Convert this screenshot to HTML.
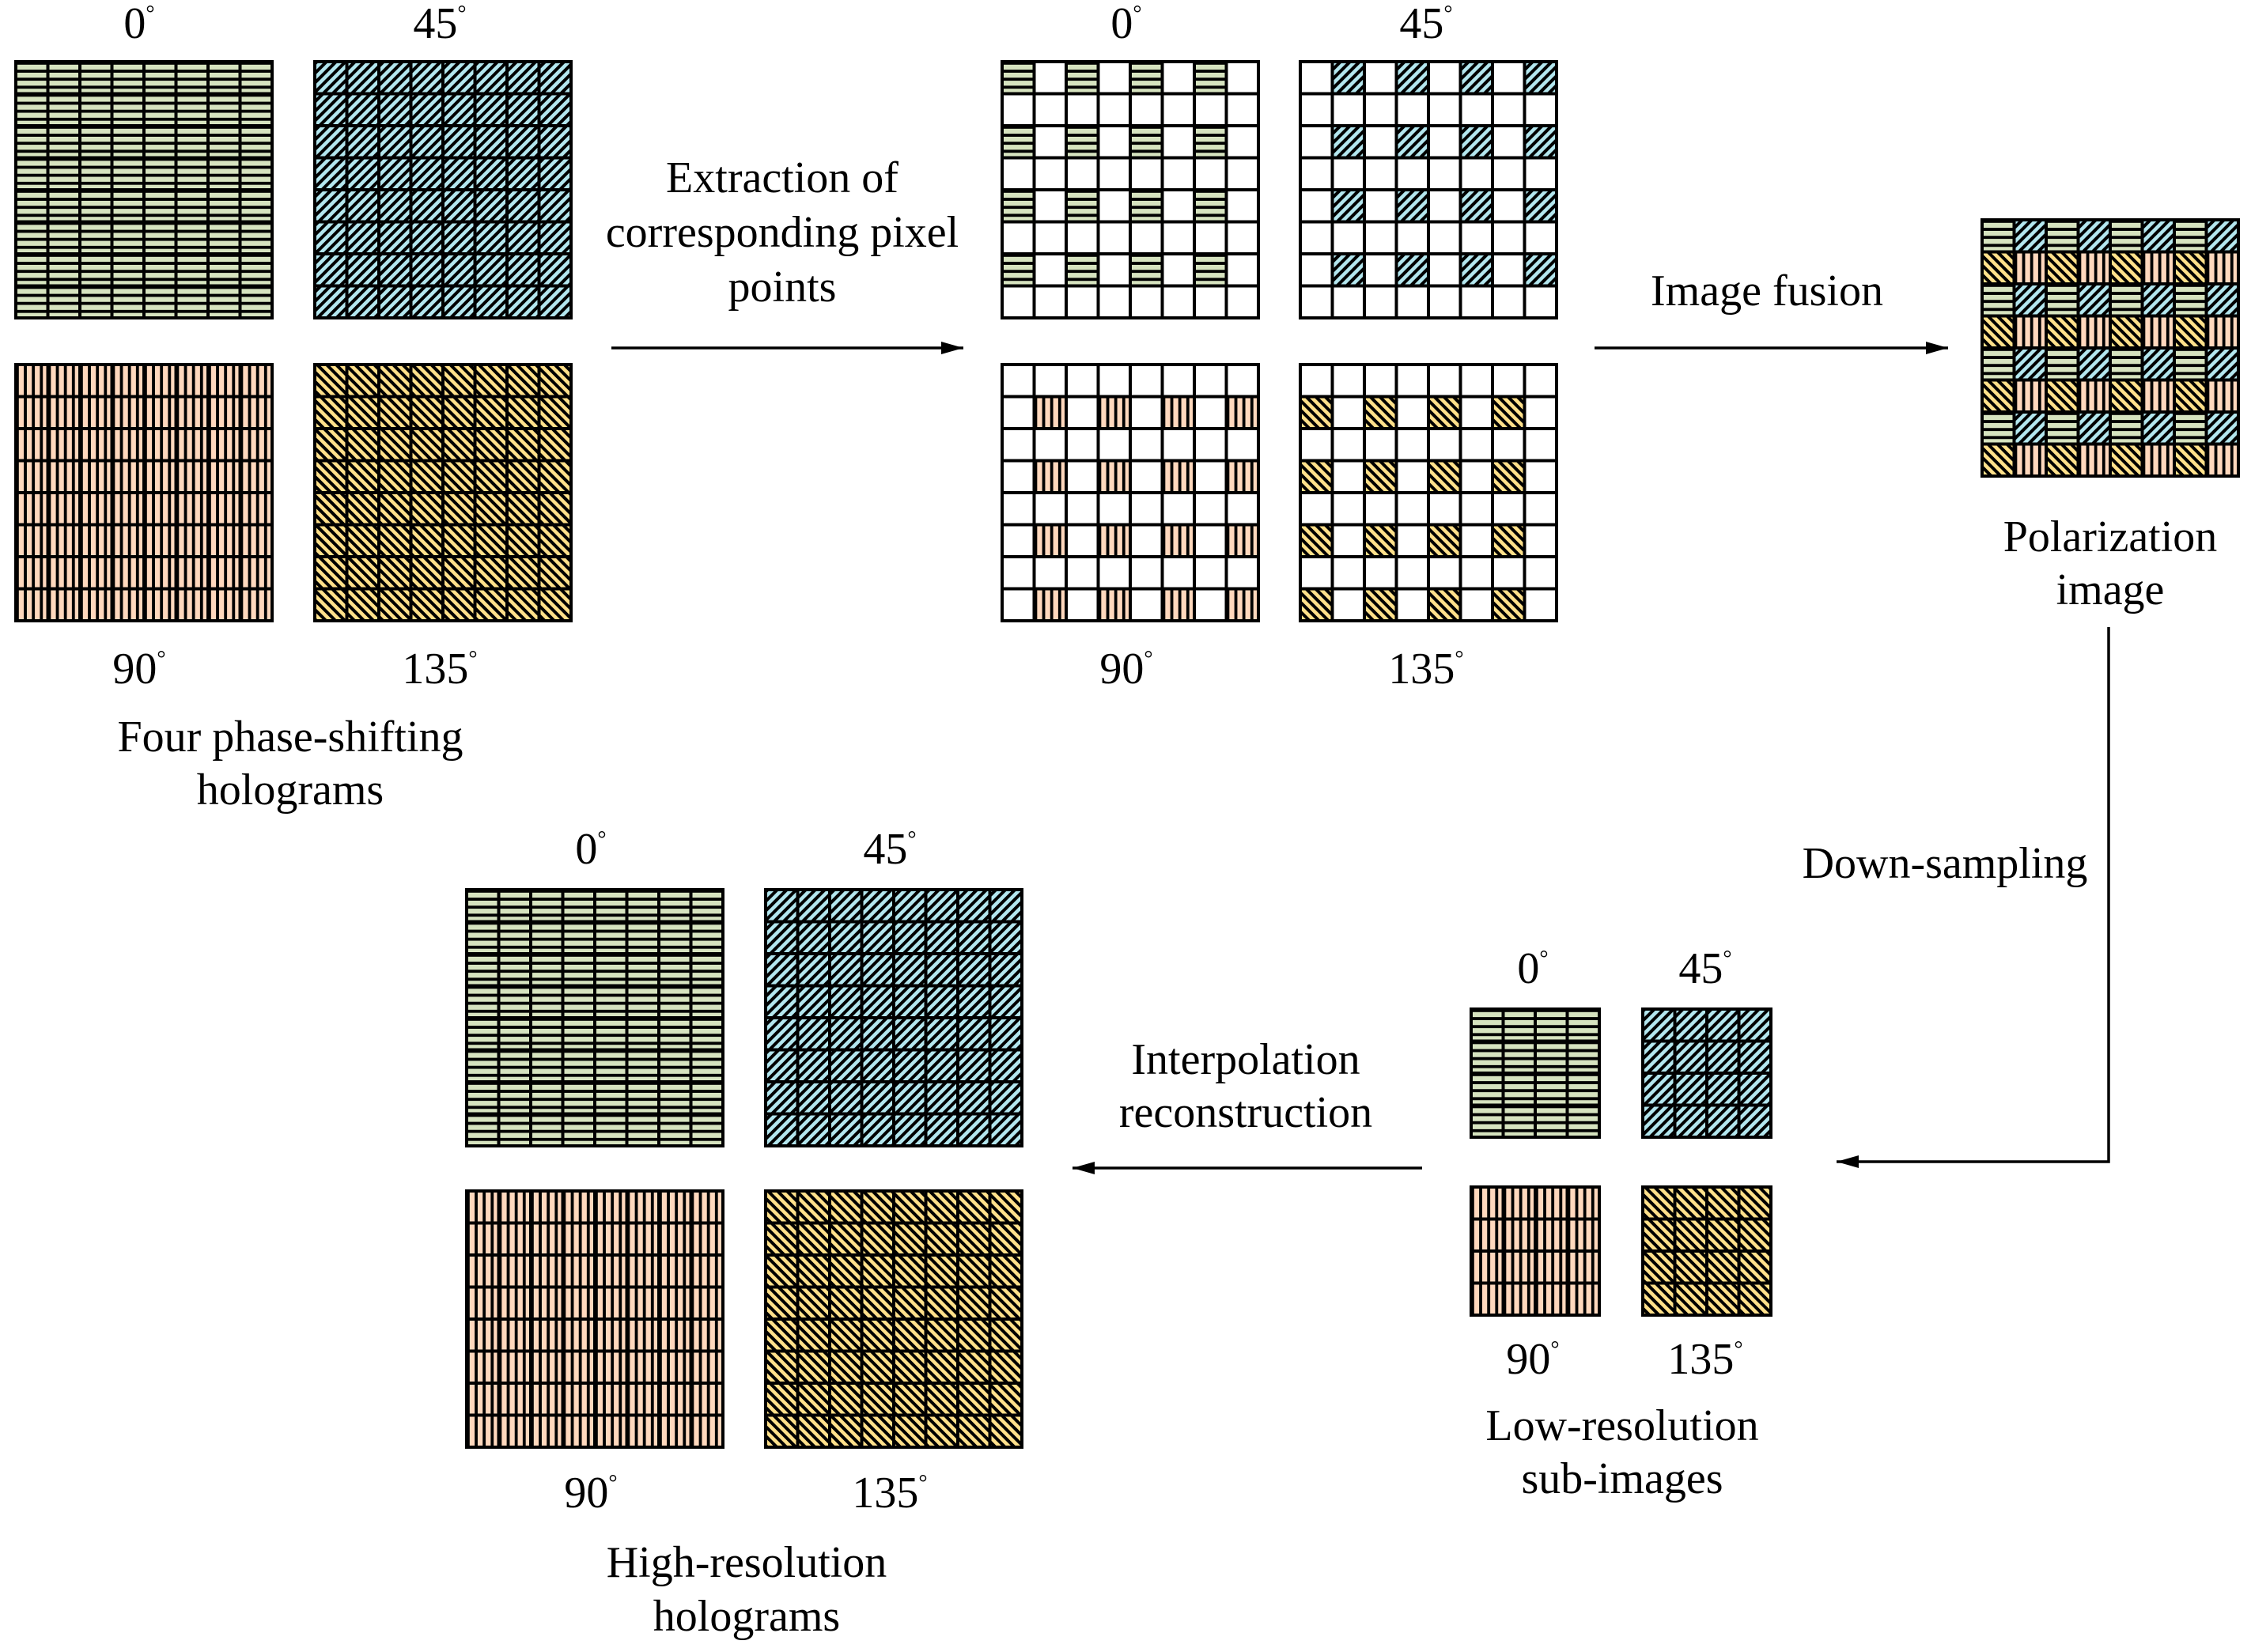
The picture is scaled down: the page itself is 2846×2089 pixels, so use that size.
<!DOCTYPE html>
<html><head><meta charset="utf-8"><style>
html,body{margin:0;padding:0;background:#fff;}
svg{display:block;}
text{font-family:"Liberation Serif",serif;font-size:56px;fill:#000;text-anchor:middle;}
</style></head><body>
<svg width="2846" height="2089" viewBox="0 0 2846 2089" xmlns="http://www.w3.org/2000/svg">
<defs>
<pattern id="pH" patternUnits="userSpaceOnUse" width="10" height="10.125"><rect width="10" height="10.125" fill="#d6e3bf"/><rect y="0" width="10" height="3.8" fill="#000"/></pattern>
<pattern id="pV" patternUnits="userSpaceOnUse" width="10.125" height="10"><rect width="10.125" height="10" fill="#ffd8bd"/><rect x="0" width="3.8" height="10" fill="#000"/></pattern>
<pattern id="pB" patternUnits="userSpaceOnUse" width="8.5" height="8.5" patternTransform="rotate(45)"><rect width="8.5" height="8.5" fill="#b3e6ee"/><rect width="4" height="8.5" fill="#000"/></pattern>
<pattern id="pY" patternUnits="userSpaceOnUse" width="8.5" height="8.5" patternTransform="rotate(-45)"><rect width="8.5" height="8.5" fill="#ffe08a"/><rect width="4" height="8.5" fill="#000"/></pattern>
<pattern id="grid" patternUnits="userSpaceOnUse" width="40.5" height="40.5"><rect x="-2" width="4" height="40.5" fill="#000"/><rect x="38.5" width="4" height="40.5" fill="#000"/><rect y="-2" width="40.5" height="4" fill="#000"/><rect y="38.5" width="40.5" height="4" fill="#000"/></pattern>
<pattern id="mH" patternUnits="userSpaceOnUse" width="81" height="81"><rect x="0" y="0" width="40.5" height="40.5" fill="url(#pH)"/></pattern>
<pattern id="mB" patternUnits="userSpaceOnUse" width="81" height="81"><rect x="40.5" y="0" width="40.5" height="40.5" fill="url(#pB)"/></pattern>
<pattern id="mV" patternUnits="userSpaceOnUse" width="81" height="81"><rect x="40.5" y="40.5" width="40.5" height="40.5" fill="url(#pV)"/></pattern>
<pattern id="mY" patternUnits="userSpaceOnUse" width="81" height="81"><rect x="0" y="40.5" width="40.5" height="40.5" fill="url(#pY)"/></pattern>
<marker id="ah" markerUnits="userSpaceOnUse" markerWidth="30" markerHeight="20" refX="28" refY="8" orient="auto"><path d="M0,0 L28,8 L0,16 Z" fill="#000"/></marker>
</defs>

<g transform="translate(20,78)"><rect width="324" height="324" fill="url(#pH)"/><rect width="324" height="324" fill="url(#grid)"/><rect width="324" height="324" fill="none" stroke="#000" stroke-width="4"/></g>
<g transform="translate(398,78)"><rect width="324" height="324" fill="url(#pB)"/><rect width="324" height="324" fill="url(#grid)"/><rect width="324" height="324" fill="none" stroke="#000" stroke-width="4"/></g>
<g transform="translate(20,461)"><rect width="324" height="324" fill="url(#pV)"/><rect width="324" height="324" fill="url(#grid)"/><rect width="324" height="324" fill="none" stroke="#000" stroke-width="4"/></g>
<g transform="translate(398,461)"><rect width="324" height="324" fill="url(#pY)"/><rect width="324" height="324" fill="url(#grid)"/><rect width="324" height="324" fill="none" stroke="#000" stroke-width="4"/></g>

<g transform="translate(1267,78)"><rect width="324" height="324" fill="#fff"/><rect width="324" height="324" fill="url(#mH)"/><rect width="324" height="324" fill="url(#grid)"/><rect width="324" height="324" fill="none" stroke="#000" stroke-width="4"/></g>
<g transform="translate(1644,78)"><rect width="324" height="324" fill="#fff"/><rect width="324" height="324" fill="url(#mB)"/><rect width="324" height="324" fill="url(#grid)"/><rect width="324" height="324" fill="none" stroke="#000" stroke-width="4"/></g>
<g transform="translate(1267,461)"><rect width="324" height="324" fill="#fff"/><rect width="324" height="324" fill="url(#mV)"/><rect width="324" height="324" fill="url(#grid)"/><rect width="324" height="324" fill="none" stroke="#000" stroke-width="4"/></g>
<g transform="translate(1644,461)"><rect width="324" height="324" fill="#fff"/><rect width="324" height="324" fill="url(#mY)"/><rect width="324" height="324" fill="url(#grid)"/><rect width="324" height="324" fill="none" stroke="#000" stroke-width="4"/></g>

<g transform="translate(2506,278)"><rect width="324" height="324" fill="url(#mH)"/><rect width="324" height="324" fill="url(#mB)"/><rect width="324" height="324" fill="url(#mV)"/><rect width="324" height="324" fill="url(#mY)"/><rect width="324" height="324" fill="url(#grid)"/><rect width="324" height="324" fill="none" stroke="#000" stroke-width="4"/></g>

<g transform="translate(1860,1276)"><rect width="162" height="162" fill="url(#pH)"/><rect width="162" height="162" fill="url(#grid)"/><rect width="162" height="162" fill="none" stroke="#000" stroke-width="4"/></g>
<g transform="translate(2077,1276)"><rect width="162" height="162" fill="url(#pB)"/><rect width="162" height="162" fill="url(#grid)"/><rect width="162" height="162" fill="none" stroke="#000" stroke-width="4"/></g>
<g transform="translate(1860,1501)"><rect width="162" height="162" fill="url(#pV)"/><rect width="162" height="162" fill="url(#grid)"/><rect width="162" height="162" fill="none" stroke="#000" stroke-width="4"/></g>
<g transform="translate(2077,1501)"><rect width="162" height="162" fill="url(#pY)"/><rect width="162" height="162" fill="url(#grid)"/><rect width="162" height="162" fill="none" stroke="#000" stroke-width="4"/></g>

<g transform="translate(590,1125)"><rect width="324" height="324" fill="url(#pH)"/><rect width="324" height="324" fill="url(#grid)"/><rect width="324" height="324" fill="none" stroke="#000" stroke-width="4"/></g>
<g transform="translate(968,1125)"><rect width="324" height="324" fill="url(#pB)"/><rect width="324" height="324" fill="url(#grid)"/><rect width="324" height="324" fill="none" stroke="#000" stroke-width="4"/></g>
<g transform="translate(590,1506)"><rect width="324" height="324" fill="url(#pV)"/><rect width="324" height="324" fill="url(#grid)"/><rect width="324" height="324" fill="none" stroke="#000" stroke-width="4"/></g>
<g transform="translate(968,1506)"><rect width="324" height="324" fill="url(#pY)"/><rect width="324" height="324" fill="url(#grid)"/><rect width="324" height="324" fill="none" stroke="#000" stroke-width="4"/></g>

<line x1="773" y1="440" x2="1218" y2="440" stroke="#000" stroke-width="3.5" marker-end="url(#ah)"/>
<line x1="2016" y1="440" x2="2463" y2="440" stroke="#000" stroke-width="3.5" marker-end="url(#ah)"/>
<polyline points="2666,793 2666,1469 2322,1469" fill="none" stroke="#000" stroke-width="3.5" marker-end="url(#ah)"/>
<line x1="1798" y1="1477" x2="1356" y2="1477" stroke="#000" stroke-width="3.5" marker-end="url(#ah)"/>

<text x="176" y="48">0<tspan font-size="28" dy="-22">°</tspan></text>
<text x="556" y="48">45<tspan font-size="28" dy="-22">°</tspan></text>
<text x="176" y="864">90<tspan font-size="28" dy="-22">°</tspan></text>
<text x="556" y="864">135<tspan font-size="28" dy="-22">°</tspan></text>
<text x="367" y="950">Four phase-shifting</text>
<text x="367" y="1017">holograms</text>

<text x="989" y="243">Extraction of</text>
<text x="989" y="312">corresponding pixel</text>
<text x="989" y="381">points</text>

<text x="1424" y="48">0<tspan font-size="28" dy="-22">°</tspan></text>
<text x="1803" y="48">45<tspan font-size="28" dy="-22">°</tspan></text>
<text x="1424" y="864">90<tspan font-size="28" dy="-22">°</tspan></text>
<text x="1803" y="864">135<tspan font-size="28" dy="-22">°</tspan></text>

<text x="2234" y="386">Image fusion</text>
<text x="2668" y="697">Polarization</text>
<text x="2668" y="764">image</text>
<text x="2459" y="1110">Down-sampling</text>

<text x="1938" y="1243">0<tspan font-size="28" dy="-22">°</tspan></text>
<text x="2156" y="1243">45<tspan font-size="28" dy="-22">°</tspan></text>
<text x="1938" y="1737">90<tspan font-size="28" dy="-22">°</tspan></text>
<text x="2156" y="1737">135<tspan font-size="28" dy="-22">°</tspan></text>
<text x="2051" y="1821">Low-resolution</text>
<text x="2051" y="1888">sub-images</text>

<text x="1575" y="1358">Interpolation</text>
<text x="1575" y="1425">reconstruction</text>

<text x="747" y="1092">0<tspan font-size="28" dy="-22">°</tspan></text>
<text x="1125" y="1092">45<tspan font-size="28" dy="-22">°</tspan></text>
<text x="747" y="1906">90<tspan font-size="28" dy="-22">°</tspan></text>
<text x="1125" y="1906">135<tspan font-size="28" dy="-22">°</tspan></text>
<text x="944" y="1994">High-resolution</text>
<text x="944" y="2062">holograms</text>
</svg>
</body></html>
